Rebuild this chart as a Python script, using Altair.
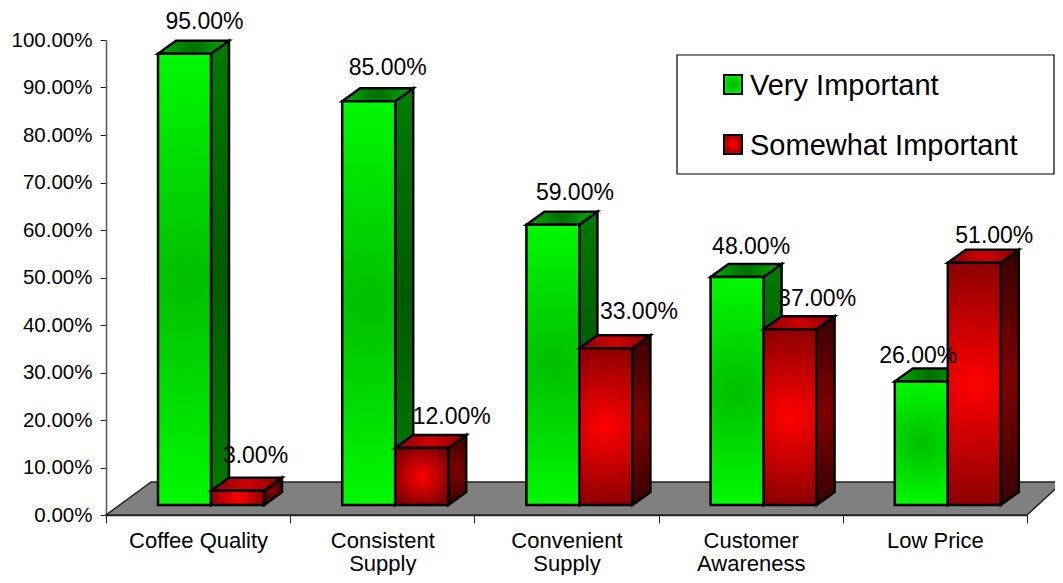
import altair as alt
import pandas as pd

categories = ["Coffee Quality", "Consistent Supply", "Convenient Supply", "Customer Awareness", "Low Price"]
very_important = [0.95, 0.85, 0.59, 0.48, 0.26]
somewhat_important = [0.03, 0.12, 0.33, 0.37, 0.51]
series_names = ["Very Important", "Somewhat Important"]

# layout (pixels), separate from the data
PLOT_W, PLOT_H = 921, 475
CAT_PX = PLOT_W / 5
FONT = "Liberation Sans"
vi_label_dx = [20, 19, 22, 14, -3]
vi_label_dy = [25, 26, 25, 23, 19]
si_label_dx = [18, 30, 33, 27, 20]
si_label_dy = [28, 24, 29, 23, 20]


def ux(px):  # pixel width -> x units
    return px / CAT_PX


def uy(px):  # pixel height -> y units
    return px / PLOT_H


BAR_START, BAR_W = ux(52), ux(53)
DEPTH_X, DEPTH_Y, LIFT = ux(18), uy(13), uy(10)

xs = alt.Scale(domain=[0, 5], nice=False, zero=False)
ys = alt.Scale(domain=[0, 1], nice=False, zero=False)


def X(f, **k):
    return alt.X(f, type="quantitative", scale=xs, axis=None, title=None, **k)


def Y(f):
    return alt.Y(f, type="quantitative", scale=ys, axis=None, title=None)


def grad(center, edge, r=0.56):
    return {
        "gradient": "radial", "x1": 0.5, "y1": 0.5, "r1": 0,
        "x2": 0.5, "y2": 0.5, "r2": r,
        "stops": [{"offset": 0, "color": center}, {"offset": 1, "color": edge}],
    }


def bar_layers(values, series_idx, front, side, top):
    rows, side_rows, top_rows = [], [], []
    for i, (c, v) in enumerate(zip(categories, values)):
        x0 = i + BAR_START + series_idx * BAR_W
        x1 = x0 + BAR_W
        rows.append(dict(category=c, series=series_names[series_idx], value=v,
                         x0=x0, x1=x1, y0=LIFT, y1=v + LIFT))
        side_rows += [
            dict(category=c, x=x1, y0=LIFT, y1=v + LIFT),
            dict(category=c, x=x1 + DEPTH_X, y0=LIFT + DEPTH_Y, y1=v + LIFT + DEPTH_Y),
        ]
        top_rows += [
            dict(category=c, y=v + LIFT, x0=x0, x1=x1),
            dict(category=c, y=v + LIFT + DEPTH_Y, x0=x0 + DEPTH_X, x1=x1 + DEPTH_X),
        ]
    stroke = dict(stroke="#000000", strokeWidth=2.5, strokeJoin="miter")
    a = alt.Chart(pd.DataFrame(side_rows)).mark_area(fill=side, opacity=1, **stroke).encode(
        x=X("x"), y=Y("y1"), y2="y0", detail="category:N")
    b = alt.Chart(pd.DataFrame(top_rows)).mark_area(fill=top, opacity=1, orient="horizontal", **stroke).encode(
        y=Y("y"), x=X("x0"), x2="x1", detail="category:N")
    c = alt.Chart(pd.DataFrame(rows)).mark_rect(fill=front, **stroke).encode(
        x=X("x0"), x2="x1", y=Y("y0"), y2="y1")
    return [a, b, c]


# axis layer: band scale carries the category ticks and labels; the y axis lives here as well
axis_df = pd.DataFrame({"category": categories, "value": very_important})
axes = alt.Chart(axis_df).mark_rule(opacity=0).encode(
    x=alt.X("category:N", sort=categories, title=None,
            scale=alt.Scale(paddingInner=0, paddingOuter=0),
            axis=alt.Axis(tickBand="extent", labelAngle=0, tickSize=8, tickColor="#222222", tickWidth=1,
                          domainColor="#222222", domainWidth=1.5, labelFont=FONT, labelFontSize=22,
                          labelColor="#000000", labelPadding=7, labelLineHeight=23, labelBaseline="top",
                          labelLimit=300,
                          labelExpr="indexof(datum.label, 'Coffee') >= 0 || indexof(datum.label, 'Low') >= 0 ? datum.label : split(datum.label, ' ')")),
    y=alt.Y("value:Q", scale=ys, title=None,
            axis=alt.Axis(values=[i / 10 for i in range(11)], format=".2%", tickSize=6, tickColor="#222222",
                          tickWidth=1, domainColor="#555555", domainWidth=1.5, labelFont=FONT,
                          labelFontSize=20.5, labelColor="#000000", labelPadding=8, grid=False)),
)

# floor
floor_df = pd.DataFrame([
    dict(y=0, x0=0, x1=5),
    dict(y=uy(33), x0=ux(45), x1=ux(957)),
])
floor = alt.Chart(floor_df).mark_area(fill="#808080", opacity=1, orient="horizontal",
                                      stroke="#222222", strokeWidth=1.5).encode(
    y=Y("y"), x=X("x0"), x2="x1")

green = bar_layers(very_important, 0, grad("#00BE00", "#00FF00"), grad("#005A00", "#008000"), grad("#006E00", "#00B400"))
red = bar_layers(somewhat_important, 1, grad("#FF0000", "#800000"), grad("#800000", "#300000"), grad("#D00000", "#800000"))

# value labels
label_rows = []
for s, (vals, dxs, dys) in enumerate([(very_important, vi_label_dx, vi_label_dy),
                                      (somewhat_important, si_label_dx, si_label_dy)]):
    for i, v in enumerate(vals):
        label_rows.append(dict(
            x=i + BAR_START + (s + 0.5) * BAR_W + ux(dxs[i]),
            y=v + LIFT + uy(dys[i]),
            text=f"{v * 100:.2f}%"))
labels = alt.Chart(pd.DataFrame(label_rows)).mark_text(
    font=FONT, fontSize=23, color="#000000", align="center", baseline="alphabetic").encode(
    x=X("x"), y=Y("y"), text="text:N")

# legend
def lx(px):
    return (px - 106) / CAT_PX


def ly(px):
    return (515 - px) / PLOT_H


box = alt.Chart(pd.DataFrame([dict(x0=lx(677), x1=lx(1054), y0=ly(174), y1=ly(55))])).mark_rect(
    fill="#FFFFFF", stroke="#000000", strokeWidth=1.2).encode(x=X("x0"), x2="x1", y=Y("y0"), y2="y1")
leg_swatches = []
for name, g, top_px in [(series_names[0], grad("#00B400", "#00FF00", 0.7), 75),
                        (series_names[1], grad("#FF0000", "#800000", 0.7), 135)]:
    leg_swatches.append(alt.Chart(pd.DataFrame([dict(series=name, x0=lx(724), x1=lx(742), y0=ly(top_px + 19), y1=ly(top_px))])).mark_rect(
        fill=g, stroke="#000000", strokeWidth=2).encode(x=X("x0"), x2="x1", y=Y("y0"), y2="y1"))
leg_text = alt.Chart(pd.DataFrame([
    dict(series=series_names[0], x=lx(750), y=ly(95)),
    dict(series=series_names[1], x=lx(750), y=ly(155)),
])).mark_text(font=FONT, fontSize=29, color="#000000", align="left", baseline="alphabetic").encode(
    x=X("x"), y=Y("y"), text="series:N")

quant = alt.layer(floor, *green, *red, labels, box, *leg_swatches, leg_text)
chart = alt.layer(axes, quant).resolve_scale(x="independent", y="independent").properties(
    width=PLOT_W, height=PLOT_H,
    padding={"left": 98, "top": 32, "right": 28, "bottom": 60},
    autosize=alt.AutoSizeParams(type="none"),
    background="#FFFFFF",
).configure_view(stroke=None)

chart.save("out.html", embed_options={"renderer": "svg", "actions": False})
